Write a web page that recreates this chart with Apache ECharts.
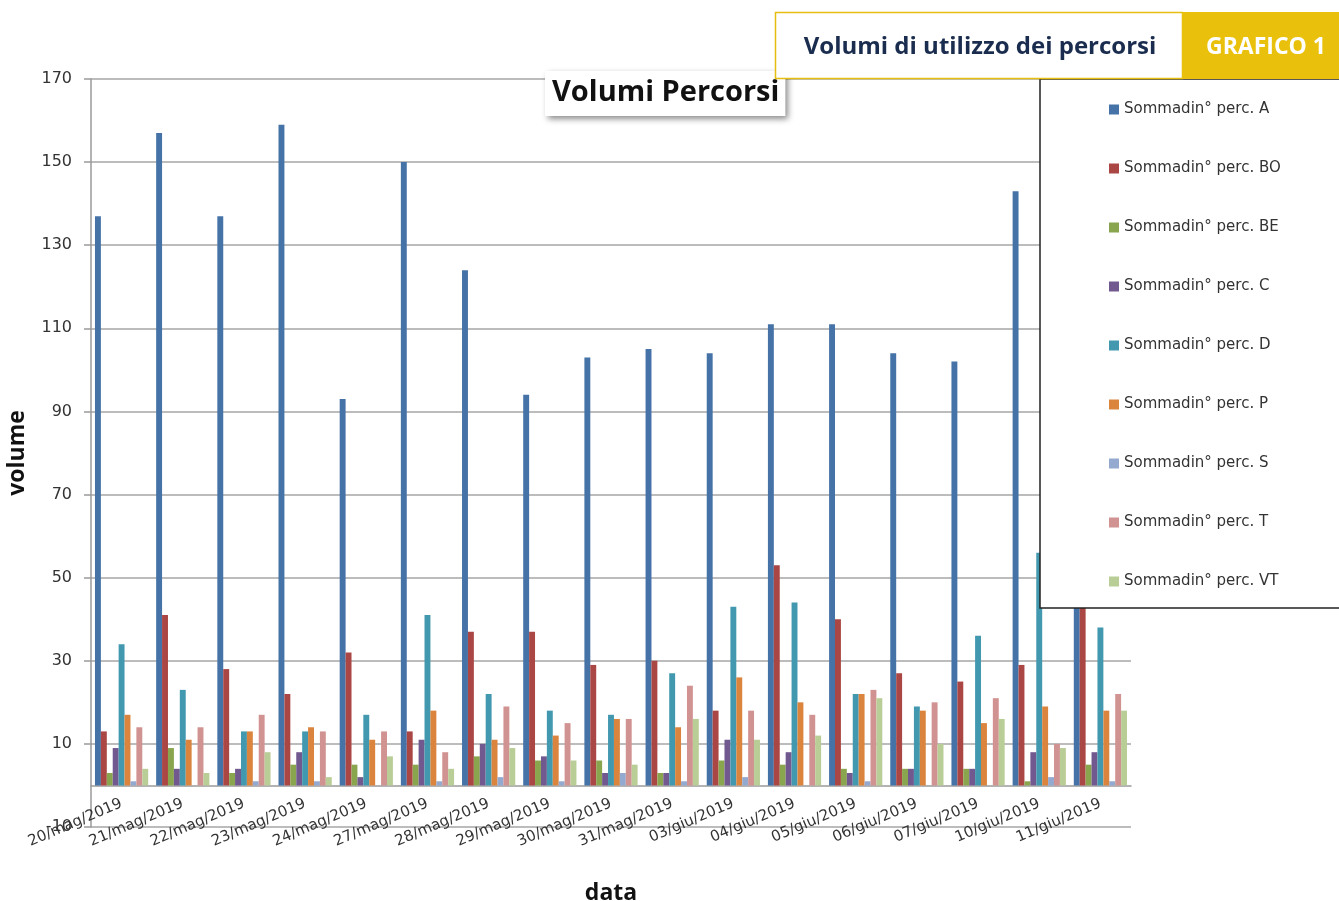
<!DOCTYPE html>
<html>
<head>
<meta charset="utf-8">
<title>Volumi Percorsi</title>
<script src="https://cdn.jsdelivr.net/npm/echarts@6/dist/echarts.min.js"></script>
<style>
  html, body { margin: 0; padding: 0; background: #fff; }
  #root { width: 1339px; height: 901px; }
</style>
</head>
<body>
<div id="root"></div>
<script>
const categories = [
  '20/mag/2019', '21/mag/2019', '22/mag/2019', '23/mag/2019', '24/mag/2019',
  '27/mag/2019', '28/mag/2019', '29/mag/2019', '30/mag/2019', '31/mag/2019',
  '03/giu/2019', '04/giu/2019', '05/giu/2019', '06/giu/2019', '07/giu/2019',
  '10/giu/2019', '11/giu/2019'
];
const seriesNames = [
  'Sommadin° perc. A', 'Sommadin° perc. BO', 'Sommadin° perc. BE',
  'Sommadin° perc. C', 'Sommadin° perc. D', 'Sommadin° perc. P',
  'Sommadin° perc. S', 'Sommadin° perc. T', 'Sommadin° perc. VT'
];
const percA  = [137, 157, 137, 159, 93, 150, 124, 94, 103, 105, 104, 111, 111, 104, 102, 143, 128];
const percBO = [13, 41, 28, 22, 32, 13, 37, 37, 29, 30, 18, 53, 40, 27, 25, 29, 47];
const percBE = [3, 9, 3, 5, 5, 5, 7, 6, 6, 3, 6, 5, 4, 4, 4, 1, 5];
const percC  = [9, 4, 4, 8, 2, 11, 10, 7, 3, 3, 11, 8, 3, 4, 4, 8, 8];
const percD  = [34, 23, 13, 13, 17, 41, 22, 18, 17, 27, 43, 44, 22, 19, 36, 56, 38];
const percP  = [17, 11, 13, 14, 11, 18, 11, 12, 16, 14, 26, 20, 22, 18, 15, 19, 18];
const percS  = [1, 0, 1, 1, 0, 1, 2, 1, 3, 1, 2, 0, 1, 0, 0, 2, 1];
const percT  = [14, 14, 17, 13, 13, 8, 19, 15, 16, 24, 18, 17, 23, 20, 21, 10, 22];
const percVT = [4, 3, 8, 2, 7, 4, 9, 6, 5, 16, 11, 12, 21, 10, 16, 9, 18];
const yTicks = [-10, 10, 30, 50, 70, 90, 110, 130, 150, 170];

const seriesData = [percA, percBO, percBE, percC, percD, percP, percS, percT, percVT];
const colors = ['#4572A7', '#AA4643', '#89A54E', '#71588F', '#4198AF',
                '#DB843D', '#93A9CF', '#D19392', '#B9CD96'];

const chart = echarts.init(document.getElementById('root'));

const option = {
  color: colors,
  animation: false,
  title: {
    text: 'Volumi Percorsi',
    left: 545,
    top: 71,
    padding: [7, 6, 9, 7],
    backgroundColor: '#fff',
    shadowBlur: 6,
    shadowColor: 'rgba(0,0,0,0.45)',
    shadowOffsetX: 3,
    shadowOffsetY: 3,
    textStyle: { fontFamily: 'Open Sans', fontSize: 29, fontWeight: 'bold', color: '#111' },
    z: 6
  },
  grid: { left: 91, right: 208, top: 79, bottom: 74, outerBoundsMode: 'none' },
  legend: {
    data: seriesNames,
    orient: 'vertical',
    left: 1104,
    top: 97,
    icon: 'rect',
    itemWidth: 10,
    itemHeight: 10,
    itemGap: 44,
    textStyle: { fontFamily: 'DejaVu Sans', fontSize: 15, color: '#333' },
    z: 30
  },
  xAxis: {
    type: 'category',
    data: categories,
    name: 'data',
    nameLocation: 'middle',
    nameGap: 55,
    nameMoveOverlap: false,
    nameTextStyle: { fontFamily: 'Open Sans', fontSize: 23, fontWeight: 'bold', color: '#111' },
    axisLine: { onZero: true, lineStyle: { color: '#9a9a9a', width: 1.5 } },
    axisTick: { length: 5, lineStyle: { color: '#9a9a9a', width: 1.5 } },
    axisLabel: {
      rotate: 23,
      margin: -24,
      fontFamily: 'DejaVu Sans',
      fontSize: 15,
      color: '#333'
    }
  },
  yAxis: {
    type: 'value',
    min: -10,
    max: 170,
    name: 'volume',
    nameLocation: 'middle',
    nameGap: 62,
    nameTextStyle: { fontFamily: 'Open Sans', fontSize: 23, fontWeight: 'bold', color: '#111' },
    axisLine: { show: true, lineStyle: { color: '#9a9a9a', width: 1.5 } },
    axisTick: { show: true, length: 7, customValues: yTicks, lineStyle: { color: '#9a9a9a', width: 1.5 } },
    axisLabel: { customValues: yTicks, margin: 19, fontFamily: 'DejaVu Sans', fontSize: 16, color: '#333' },
    splitLine: { show: true, lineStyle: { color: '#a6a6a6', width: 1.5 } }
  },
  graphic: [
    {
      type: 'rect',
      z: 20,
      shape: { x: 1040, y: 79, width: 320, height: 529 },
      style: { fill: '#fff', stroke: '#222', lineWidth: 1.5 }
    },
    {
      type: 'rect',
      z: 25,
      shape: { x: 775.5, y: 12.5, width: 407, height: 66 },
      style: { fill: '#fff', stroke: '#E6BE12', lineWidth: 1.5 }
    },
    {
      type: 'rect',
      z: 25,
      shape: { x: 1182, y: 12, width: 157, height: 67 },
      style: { fill: '#E9C10C' }
    },
    {
      type: 'text',
      z: 26,
      x: 980,
      y: 47,
      style: {
        text: 'Volumi di utilizzo dei percorsi',
        fill: '#1B2D4F',
        font: 'bold 24px "Open Sans"',
        align: 'center',
        verticalAlign: 'middle'
      }
    },
    {
      type: 'text',
      z: 26,
      x: 1266,
      y: 47,
      style: {
        text: 'GRAFICO 1',
        fill: '#fff',
        font: 'bold 23px "Open Sans"',
        align: 'center',
        verticalAlign: 'middle'
      }
    }
  ],
  series: seriesNames.map(function (name, i) {
    return {
      name: name,
      type: 'bar',
      data: seriesData[i],
      barGap: '0%',
      barCategoryGap: '13%'
    };
  })
};

chart.setOption(option);
</script>
</body>
</html>
